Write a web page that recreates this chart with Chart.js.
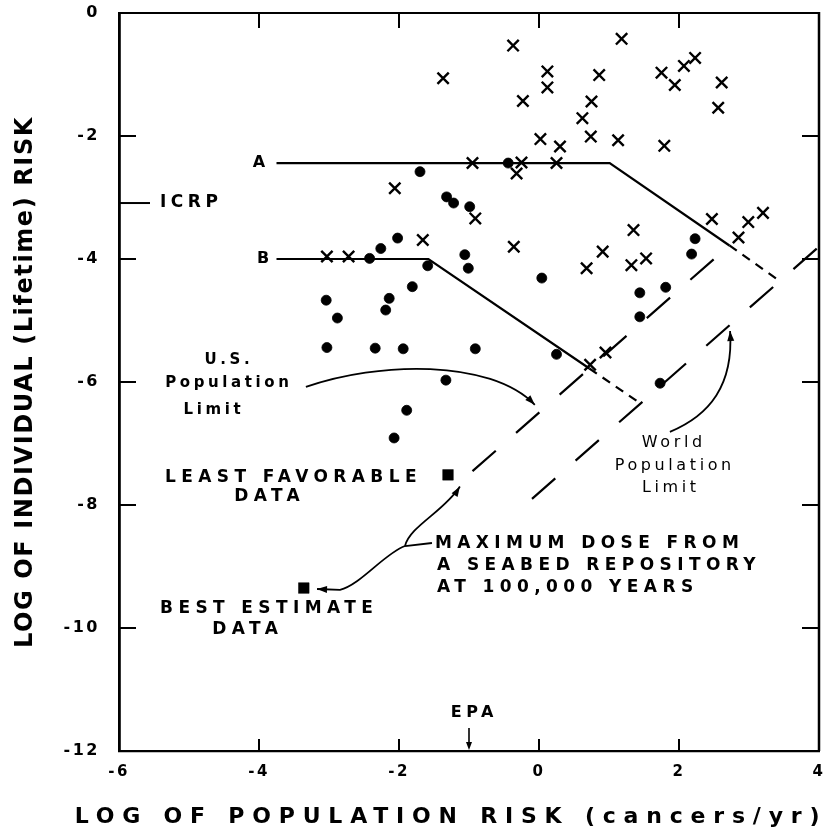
<!DOCTYPE html>
<html>
<head>
<meta charset="utf-8">
<script src="https://cdn.jsdelivr.net/npm/chart.js@4.4.1/dist/chart.umd.min.js"></script>
<style>
  html, body { margin: 0; padding: 0; background: #fff; }
  canvas { display: block; }
</style>
</head>
<body>
<canvas id="chart" width="830" height="831"></canvas>
<script>
// Individual lifetime risk vs. population risk (both log10)

// Cases plotted with crosses
const crossX = [-1.37, -0.37, 1.18, 0.12, 0.12, 0.86, 1.75, 2.07, 2.23, 1.94, 2.61, 2.56,
                -0.23, 0.75, 0.62, 0.02, 0.30, 0.74, 1.13, 1.79, -0.95, -0.25, -0.32, 0.25,
                -2.06, -0.91, -1.66, -3.03, -2.72, -0.36, 1.35, 0.91, 0.68, 1.32, 1.53,
                2.47, 2.85, 2.99, 3.20, 0.95, 0.73];
const crossY = [-1.06, -0.53, -0.42, -0.95, -1.21, -1.01, -0.97, -0.86, -0.73, -1.17, -1.13, -1.54,
                -1.43, -1.44, -1.71, -2.05, -2.17, -2.01, -2.07, -2.16, -2.44, -2.43, -2.61, -2.44,
                -2.85, -3.34, -3.69, -3.96, -3.96, -3.80, -3.53, -3.88, -4.15, -4.10, -3.99,
                -3.35, -3.65, -3.40, -3.25, -5.52, -5.72];

// Cases plotted with filled dots
const dotX = [-1.70, -1.32, -1.22, -0.99, -0.44, -2.02, -2.26, -2.42, -1.59, -1.81, -2.14, -2.19,
              -3.04, -2.88, -3.03, -2.34, -1.94, -1.33, -1.89, -2.07, -1.06, -1.01, 0.04,
              2.23, 2.18, 1.44, 1.81, 1.44, -0.91, 0.25, 1.73];
const dotY = [-2.58, -2.99, -3.09, -3.15, -2.44, -3.66, -3.83, -3.99, -4.11, -4.45, -4.64, -4.83,
              -4.67, -4.96, -5.44, -5.45, -5.46, -5.97, -6.46, -6.91, -3.93, -4.15, -4.31,
              -3.67, -3.92, -4.55, -4.46, -4.94, -5.46, -5.55, -6.02];

// Seabed repository at 100,000 years: least favorable, best estimate
const squareX = [-1.30, -3.36];
const squareY = [-7.51, -9.35];

// Limit curves A and B (last segment dashed)
const limitAX = [-3.75, 1.01, 2.72, 3.44];
const limitAY = [-2.44, -2.44, -3.78, -4.36];
const limitBX = [-3.75, -1.58, 0.72, 1.45];
const limitBY = [-4.00, -4.00, -5.78, -6.35];

// Population limits
const usLimitX = [-0.95, 2.72];
const usLimitY = [-7.45, -3.78];
const worldLimitX = [-0.10, 4.00];
const worldLimitY = [-7.90, -3.80];

// Reference levels
const icrpLevel = -3.09;
const epaLevel = -1.0;

// Axis ticks
const xTickValues = [-6, -4, -2, 0, 2, 4];
const yTickValues = [0, -2, -4, -6, -8, -10, -12];

const pts = (xs, ys) => xs.map((x, i) => ({ x, y: ys[i] }));
const FONT = 'DejaVu Sans';
const INK = '#000';

Chart.defaults.font.family = FONT;
Chart.defaults.color = INK;

// Letter-spaced axis titles and tick labels
const spacedAxisText = {
  id: 'spacedAxisText',
  beforeDraw(chart, args, opts) {
    ['x', 'y'].forEach(id => {
      const s = chart.scales[id];
      if (!s || s.__spaced) return;
      const cfg = opts[id];
      const drawTitle = s.drawTitle;
      const drawLabels = s.drawLabels;
      s.drawTitle = function () {
        const ctx = this.ctx;
        ctx.save();
        ctx.letterSpacing = cfg.titleSpacing + 'px';
        ctx.translate(cfg.titleShiftX, 0);
        const l = this.left, r = this.right;
        this.left -= cfg.titleExtend; this.right += cfg.titleExtend;
        drawTitle.apply(this, arguments);
        this.left = l; this.right = r;
        ctx.restore();
      };
      s.drawLabels = function () {
        const ctx = this.ctx;
        ctx.save();
        ctx.letterSpacing = cfg.labelSpacing + 'px';
        drawLabels.apply(this, arguments);
        ctx.restore();
      };
      s.__spaced = true;
    });
  }
};

// Frame, inward ticks, reference levels, labels and arrows
const annotations = {
  id: 'annotations',
  afterDatasetsDraw(chart) {
    const { ctx, chartArea: a, scales: { x: xs, y: ys } } = chart;
    const P = (x, y) => [xs.getPixelForValue(x), ys.getPixelForValue(y)];

    ctx.save();
    ctx.strokeStyle = INK;
    ctx.fillStyle = INK;
    ctx.lineCap = 'butt';

    // top and right edges of the frame
    ctx.lineWidth = 2;
    ctx.beginPath();
    ctx.moveTo(a.left, a.top); ctx.lineTo(a.right, a.top);
    ctx.stroke();
    ctx.lineWidth = 2.5;
    ctx.beginPath();
    ctx.moveTo(a.right, a.top - 1); ctx.lineTo(a.right, a.bottom);
    ctx.stroke();

    // inward tick marks on all four sides
    ctx.lineWidth = 2;
    xs.ticks.forEach(t => {
      if (t.value <= xs.min || t.value >= xs.max) return;
      const px = xs.getPixelForValue(t.value);
      ctx.beginPath();
      ctx.moveTo(px, a.top); ctx.lineTo(px, a.top + 15);
      ctx.moveTo(px, a.bottom); ctx.lineTo(px, a.bottom - 12);
      ctx.stroke();
    });
    ys.ticks.forEach(t => {
      if (t.value <= ys.min || t.value >= ys.max) return;
      const py = ys.getPixelForValue(t.value);
      ctx.beginPath();
      ctx.moveTo(a.left, py); ctx.lineTo(a.left + 17, py);
      ctx.moveTo(a.right, py); ctx.lineTo(a.right - 17, py);
      ctx.stroke();
    });

    const text = (str, x, y, o) => {
      const [px, py] = P(x, y);
      const sp = o.spacing || 0;
      ctx.save();
      ctx.font = (o.weight || 'bold') + ' ' + o.size + 'px "' + FONT + '"';
      ctx.letterSpacing = sp + 'px';
      ctx.textAlign = o.align || 'left';
      ctx.textBaseline = 'middle';
      const shift = o.align === 'center' ? sp / 2 : (o.align === 'right' ? sp : 0);
      ctx.fillText(str, px + shift, py);
      ctx.restore();
    };

    const head = (tip, from, len, wid) => {
      const ang = Math.atan2(tip[1] - from[1], tip[0] - from[0]);
      ctx.beginPath();
      ctx.moveTo(tip[0], tip[1]);
      ctx.lineTo(tip[0] - len * Math.cos(ang) + wid * Math.sin(ang),
                 tip[1] - len * Math.sin(ang) - wid * Math.cos(ang));
      ctx.lineTo(tip[0] - len * Math.cos(ang) - wid * Math.sin(ang),
                 tip[1] - len * Math.sin(ang) + wid * Math.cos(ang));
      ctx.closePath();
      ctx.fill();
    };

    const curve = (p0, p1, p2, p3, arrow) => {
      const q0 = P(...p0), q1 = P(...p1), q2 = P(...p2), q3 = P(...p3);
      ctx.beginPath();
      ctx.moveTo(...q0);
      ctx.bezierCurveTo(...q1, ...q2, ...q3);
      ctx.stroke();
      if (arrow) head(q3, q2, 10, 3.5);
    };

    // ICRP level
    const [ix0, iy] = P(xs.min, icrpLevel);
    ctx.lineWidth = 2;
    ctx.beginPath();
    ctx.moveTo(ix0, iy); ctx.lineTo(ix0 + 31, iy);
    ctx.stroke();
    text('ICRP', -5.414, icrpLevel, { size: 17, spacing: 4.5 });

    // EPA level
    const [ex, ey] = P(epaLevel, ys.min);
    ctx.lineWidth = 1.6;
    ctx.beginPath();
    ctx.moveTo(ex, ey - 23); ctx.lineTo(ex, ey - 6);
    ctx.stroke();
    head([ex, ey - 1], [ex, ey - 20], 8, 3);
    text('EPA', -0.957, -11.38, { size: 16, spacing: 4.5, align: 'center' });

    // curve labels
    text('A', -4.0, -2.44, { size: 16, spacing: 0, align: 'center' });
    text('B', -3.943, -4.0, { size: 16, spacing: 0, align: 'center' });

    // population limit captions
    const usCap = { size: 15, weight: 'bold', spacing: 3.6, align: 'center' };
    text('U.S.', -4.457, -5.64, usCap);
    text('Population', -4.457, -6.02, usCap);
    text('Limit', -4.671, -6.46, usCap);
    const worldCap = { size: 16, weight: 'normal', spacing: 3.6, align: 'center' };
    text('World', 1.90, -6.99, worldCap);
    text('Population', 1.914, -7.37, worldCap);
    text('Limit', 1.857, -7.72, worldCap);

    // repository captions
    const big = { size: 17, spacing: 5.4 };
    text('LEAST FAVORABLE', -5.343, -7.56, big);
    text('DATA', -3.886, -7.87, Object.assign({}, big, { align: 'center' }));
    text('BEST ESTIMATE', -5.414, -9.69, big);
    text('DATA', -4.20, -10.02, Object.assign({}, big, { align: 'center' }));
    text('MAXIMUM DOSE FROM', -1.486, -8.62, big);
    text('A SEABED REPOSITORY', -1.457, -8.98, big);
    text('AT 100,000 YEARS', -1.457, -9.35, big);

    // arrows
    ctx.lineWidth = 1.8;
    curve([-3.33, -6.08], [-2.31, -5.67], [-0.70, -5.62], [-0.06, -6.37], true);
    curve([1.87, -6.81], [2.44, -6.54], [2.78, -6.05], [2.73, -5.17], true);

    // maximum-dose pointer: stub, then branches to both squares
    const j = P(-1.914, -8.667);
    const s0 = P(-1.529, -8.618);
    ctx.beginPath();
    ctx.moveTo(...s0); ctx.lineTo(...j);
    ctx.stroke();
    curve([-1.914, -8.667], [-1.85, -8.35], [-1.35, -8.10], [-1.13, -7.70], true);
    const d1 = P(-2.843, -9.38), d2 = P(-3.171, -9.366);
    ctx.beginPath();
    ctx.moveTo(...j);
    ctx.bezierCurveTo(...P(-2.20, -8.78), ...P(-2.55, -9.30), ...d1);
    ctx.lineTo(...d2);
    ctx.stroke();
    head(d2, d1, 10, 3.5);

    ctx.restore();
  }
};

const lineBase = {
  showLine: true, fill: false, tension: 0, pointRadius: 0, pointHoverRadius: 0,
  borderColor: INK, borderWidth: 2.2, order: 5
};

new Chart(document.getElementById('chart'), {
  type: 'scatter',
  data: {
    datasets: [
      { label: 'crosses', data: pts(crossX, crossY), pointStyle: 'crossRot',
        pointRadius: 8, borderColor: INK, borderWidth: 2.4, order: 1 },
      { label: 'dots', data: pts(dotX, dotY), pointStyle: 'circle',
        pointRadius: 5, backgroundColor: INK, borderColor: INK, borderWidth: 0.8, order: 1 },
      { label: 'repository', data: pts(squareX, squareY), pointStyle: 'rect',
        pointRadius: 7.5, backgroundColor: INK, borderColor: INK, borderWidth: 0.5, order: 0 },
      Object.assign({}, lineBase, { label: 'A', data: pts(limitAX, limitAY),
        segment: { borderDash: c => c.p0DataIndex >= 2 ? [9, 7] : undefined } }),
      Object.assign({}, lineBase, { label: 'B', data: pts(limitBX, limitBY),
        segment: { borderDash: c => c.p0DataIndex >= 2 ? [9, 7] : undefined } }),
      Object.assign({}, lineBase, { label: 'U.S. limit', data: pts(usLimitX, usLimitY),
        borderDash: [31, 27] }),
      Object.assign({}, lineBase, { label: 'World limit', data: pts(worldLimitX, worldLimitY),
        borderDash: [31, 27] })
    ]
  },
  options: {
    responsive: false,
    animation: false,
    devicePixelRatio: 1,
    layout: { padding: { top: 13, right: 11, left: 0, bottom: 0 } },
    plugins: {
      legend: { display: false },
      tooltip: { enabled: false },
      spacedAxisText: {
        x: { titleSpacing: 7.8, titleShiftX: -18, titleExtend: 80, labelSpacing: 2.5 },
        y: { titleSpacing: 1.6, titleShiftX: 0, titleExtend: 0, labelSpacing: 2.5 }
      }
    },
    scales: {
      x: {
        type: 'linear', min: -6, max: 4,
        afterBuildTicks: s => { s.ticks = xTickValues.map(v => ({ value: v })); },
        afterFit: s => { s.height = 80; s.paddingLeft = 0; s.paddingRight = 0; },
        grid: { display: false, drawTicks: false },
        border: { display: true, color: INK, width: 2.2 },
        ticks: { padding: 12, maxRotation: 0, autoSkip: false,
                 font: { size: 15, weight: 'bold' }, color: INK },
        title: { display: true, text: 'LOG OF POPULATION RISK (cancers/yr)',
                 font: { size: 22, weight: 'bold' }, color: INK, padding: { top: 0, bottom: 1 } }
      },
      y: {
        type: 'linear', min: -12, max: 0,
        afterBuildTicks: s => { s.ticks = yTickValues.map(v => ({ value: v })); },
        afterFit: s => { s.width = 119; s.paddingTop = 0; s.paddingBottom = 0; },
        grid: { display: false, drawTicks: false },
        border: { display: true, color: INK, width: 2.8 },
        ticks: { padding: 19, autoSkip: false,
                 font: { size: 16, weight: 'bold' }, color: INK },
        title: { display: true, text: 'LOG OF INDIVIDUAL (Lifetime) RISK',
                 font: { size: 24, weight: 'bold' }, color: INK, padding: { top: 11, bottom: 0 } }
      }
    }
  },
  plugins: [spacedAxisText, annotations]
});
</script>
</body>
</html>
